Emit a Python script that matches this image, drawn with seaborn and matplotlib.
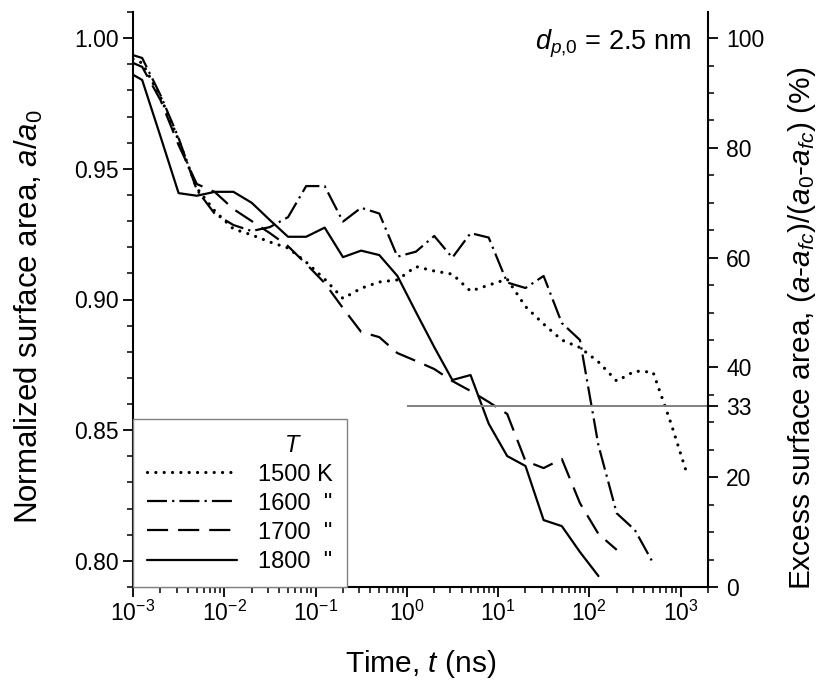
import numpy as np
import pandas as pd
import matplotlib
matplotlib.use("Agg")
import matplotlib.pyplot as plt
import seaborn as sns
from matplotlib.ticker import FixedLocator, MultipleLocator, LogLocator, FuncFormatter, NullFormatter

# ---------------- data ----------------
time_ns = [0.001, 0.00126, 0.002, 0.00316, 0.005, 0.0079, 0.0126, 0.02, 0.0316, 0.05,
           0.079, 0.126, 0.2, 0.316, 0.5, 0.79, 1.26, 2.0, 3.16, 5.0,
           7.9, 12.6, 20.0, 31.6, 50.0, 79.0, 126.0, 200.0, 316.0, 500.0, 790.0]
time_1500_end = [1150.0]

a_1500 = [0.992, 0.9905, 0.9775, 0.961, 0.9426, 0.9338, 0.927, 0.9247, 0.922, 0.9197,
          0.9143, 0.9078, 0.9004, 0.9043, 0.9067, 0.9075, 0.9126, 0.9109, 0.9097, 0.9032,
          0.9055, 0.9078, 0.8973, 0.8906, 0.8845, 0.8816, 0.8761, 0.8688, 0.8726, 0.8722,
          0.8524, 0.8344]
a_1600 = [0.9935, 0.9924, 0.9782, 0.9618, 0.9419, 0.9327, 0.9285, 0.9262, 0.9277, 0.9315,
          0.9434, 0.9434, 0.9298, 0.9351, 0.9329, 0.9164, 0.9183, 0.9243, 0.916, 0.9254,
          0.9237, 0.9065, 0.9044, 0.909, 0.891, 0.8845, 0.8442, 0.8182, 0.8118, 0.7992]
a_1700 = [0.9905, 0.989, 0.9763, 0.9591, 0.9442, 0.9411, 0.9346, 0.930, 0.9254, 0.9204,
          0.9136, 0.9063, 0.8967, 0.8876, 0.8856, 0.8795, 0.8765, 0.8734, 0.8688, 0.865,
          0.8608, 0.8562, 0.8382, 0.8355, 0.839, 0.8221, 0.8103, 0.8042]
a_1800 = [0.986, 0.984, 0.9624, 0.9407, 0.9397, 0.9412, 0.9412, 0.937, 0.9304, 0.924,
          0.924, 0.9275, 0.9162, 0.9187, 0.917, 0.909, 0.8952, 0.8818, 0.8692, 0.8711,
          0.8525, 0.8401, 0.8363, 0.8156, 0.8133, 0.8034, 0.7942]

series_labels = ['1500 K', '1600  "', '1700  "', '1800  "']
legend_title = "T"
note_text = r"$d_{p{,}\mathit{0}}$ = 2.5 nm"
threshold_pct = 33
threshold_start_ns = 1.0

x_ticks = [1e-3, 1e-2, 1e-1, 1e0, 1e1, 1e2, 1e3]
y_ticks = [0.80, 0.85, 0.90, 0.95, 1.00]
y2_ticks = [0, 20, 33, 40, 60, 80, 100]

# ---------------- style ----------------
sns.set_style("ticks")
plt.rcParams['font.family'] = ['Liberation Sans', 'DejaVu Sans']
plt.rcParams['mathtext.fontset'] = 'custom'
plt.rcParams['mathtext.rm'] = 'Liberation Sans'
plt.rcParams['mathtext.it'] = 'Liberation Sans:italic'
plt.rcParams['mathtext.bf'] = 'Liberation Sans:bold'
plt.rcParams['axes.unicode_minus'] = True
for k in ['text.color', 'axes.labelcolor', 'xtick.color', 'ytick.color', 'axes.edgecolor']:
    plt.rcParams[k] = 'black'

TICK_FS = 16.5
LABEL_FS = 21.5
YLABEL_FS = 22.5
LEG_FS = 17

df = pd.concat([
    pd.DataFrame({'t': time_ns + time_1500_end, 'a': a_1500, 'T': series_labels[0]}),
    pd.DataFrame({'t': time_ns[:len(a_1600)], 'a': a_1600, 'T': series_labels[1]}),
    pd.DataFrame({'t': time_ns[:len(a_1700)], 'a': a_1700, 'T': series_labels[2]}),
    pd.DataFrame({'t': time_ns[:len(a_1800)], 'a': a_1800, 'T': series_labels[3]}),
], ignore_index=True)

styles = {
    series_labels[0]: dict(lw=2.3, dashes=(0.01, 2.6), cap='round'),
    series_labels[1]: dict(lw=1.6, dashes=(9.0, 2.3, 1.0, 2.3), cap='butt'),
    series_labels[2]: dict(lw=1.6, dashes=(9.5, 4.5), cap='butt'),
    series_labels[3]: dict(lw=1.6, dashes=None, cap='butt'),
}

fig = plt.figure(figsize=(8.25, 6.83), dpi=100)
W, H = 825, 683
ax = fig.add_axes([133 / W, 1 - 587 / H, 575 / W, 575 / H])

handles = []
for lab in series_labels:
    st = styles[lab]
    sub = df[df['T'] == lab]
    n_before = len(ax.get_lines())
    sns.lineplot(data=sub, x='t', y='a', ax=ax, color='black', linewidth=st['lw'],
                 estimator=None, sort=False, legend=False)
    line = ax.get_lines()[n_before]
    if st['dashes'] is not None:
        line.set_dashes(st['dashes'])
    line.set_dash_capstyle(st['cap'])
    line.set_label(lab)
    handles.append(line)

ax.set_xscale('log')
ax.set_xlim(1e-3, 2000)
ax.set_ylim(0.79, 1.01)

ax.xaxis.set_major_locator(FixedLocator(x_ticks))
ax.xaxis.set_major_formatter(FuncFormatter(lambda v, p: r"$10^{%d}$" % int(round(np.log10(v)))))
ax.xaxis.set_minor_locator(LogLocator(base=10, subs=np.arange(2, 10), numticks=20))
ax.xaxis.set_minor_formatter(NullFormatter())
ax.yaxis.set_major_locator(FixedLocator(y_ticks))
ax.yaxis.set_major_formatter(FuncFormatter(lambda v, p: "%.2f" % v))
ax.yaxis.set_minor_locator(MultipleLocator(0.01))

ax.set_xlabel(r"Time, $t$ (ns)", fontsize=LABEL_FS, labelpad=16)
ax.set_ylabel(r"Normalized surface area, $a/a_0$", fontsize=YLABEL_FS)
ax.yaxis.set_label_coords(-0.153, 0.47)

ax2 = ax.twinx()
ax2.set_ylim(0, 100 * (1.01 - 0.79) / 0.21)
ax2.yaxis.set_major_locator(FixedLocator(y2_ticks))
ax2.yaxis.set_minor_locator(MultipleLocator(5))
ax2.set_ylabel(r"Excess surface area, $(a$-$a_{fc})/(a_0$-$a_{fc})$ (%)", fontsize=LABEL_FS)
ax2.yaxis.set_label_coords(1.135, 0.45)
ax2.hlines(threshold_pct, threshold_start_ns, 2000, color='#808080', lw=1.4)

for a_ in (ax, ax2):
    for s in ['left', 'right', 'bottom']:
        a_.spines[s].set_linewidth(1.5)
        a_.spines[s].set_color('black')
    a_.spines['top'].set_visible(False)
    a_.tick_params(which='major', direction='out', length=7, width=1.3, labelsize=TICK_FS, color='black')
    a_.tick_params(which='minor', direction='out', length=4, width=1.1, color='black')
ax.spines['right'].set_visible(False)
ax2.spines['left'].set_visible(False)
ax2.spines['bottom'].set_visible(False)
ax.tick_params(axis='x', pad=3)
ax2.tick_params(axis='y', pad=6)

ax.text(0.97, 0.945, note_text, transform=ax.transAxes, ha='right', va='center', fontsize=19.5)

leg = ax.legend(handles=handles, labels=series_labels, loc='lower left', bbox_to_anchor=(0, 0),
                borderaxespad=0, fancybox=False, frameon=True, edgecolor='#808080',
                fontsize=LEG_FS, handlelength=3.8, handletextpad=0.9, labelspacing=0.3,
                borderpad=0.6, title=legend_title + "     ", alignment='right',
                title_fontproperties={'style': 'italic', 'size': LEG_FS})
leg.get_frame().set_linewidth(1.0)
leg.get_frame().set_facecolor('white')
leg.get_frame().set_alpha(1)

fig.savefig("out.png", dpi=100)
